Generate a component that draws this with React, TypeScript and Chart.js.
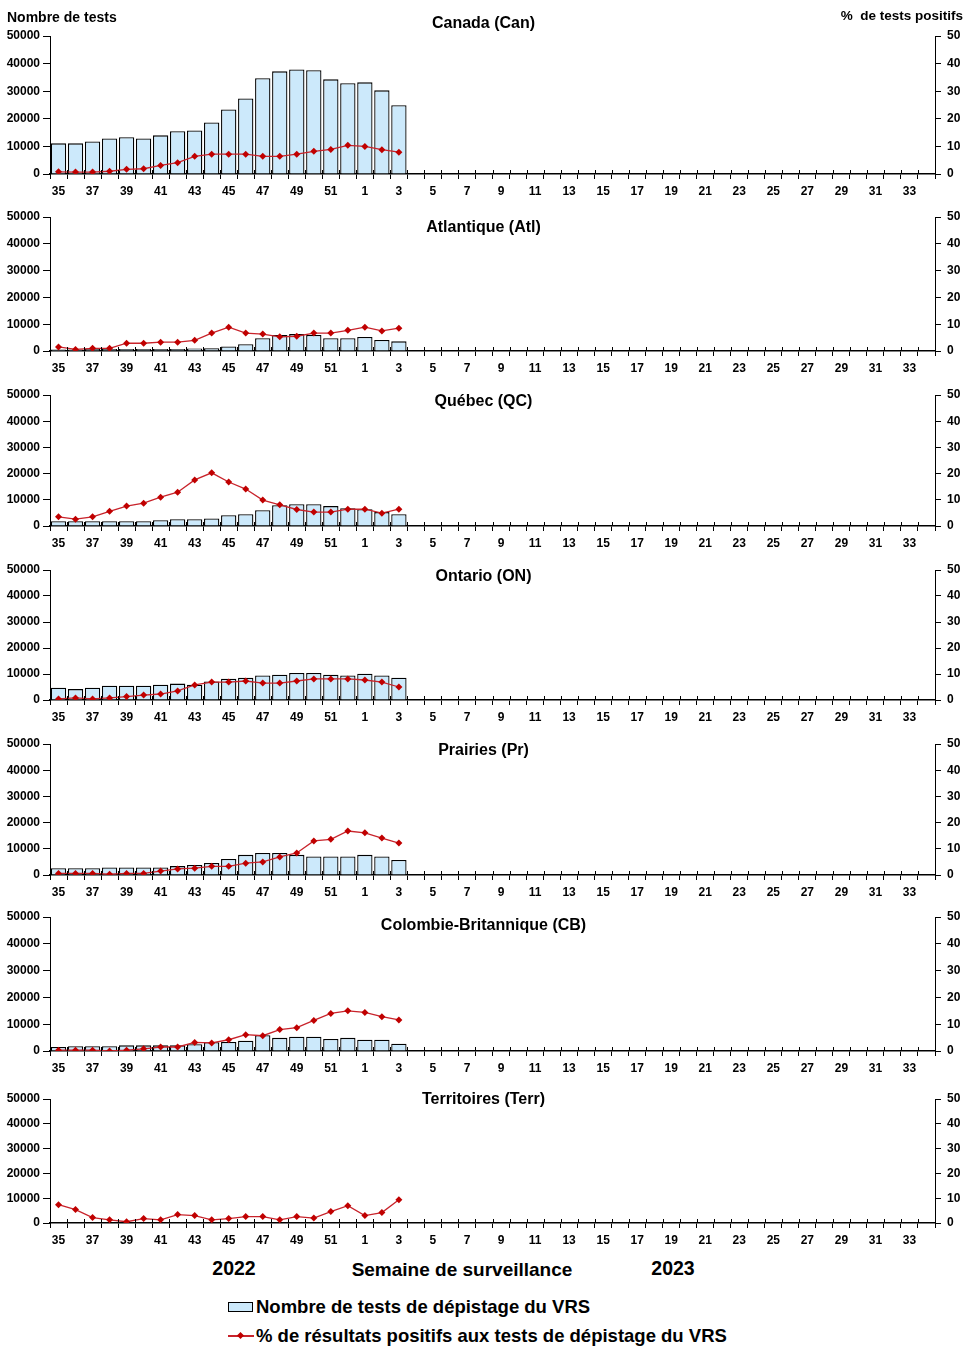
import React, { useEffect, useRef } from 'react';
import { Chart, registerables } from 'chart.js';

Chart.register(...registerables);

// ---- Data ----
const WEEKS = [
  '35', '36', '37', '38', '39', '40', '41', '42', '43', '44', '45', '46', '47', '48', '49', '50', '51', '52',
  '1', '2', '3', '4', '5', '6', '7', '8', '9', '10', '11', '12', '13', '14', '15', '16', '17', '18',
  '19', '20', '21', '22', '23', '24', '25', '26', '27', '28', '29', '30', '31', '32', '33', '34',
];

const TESTS_TICKS = [0, 10000, 20000, 30000, 40000, 50000];
const PCT_TICKS = [0, 10, 20, 30, 40, 50];

const CAN_TESTS = [11100, 11100, 11800, 12900, 13300, 12900, 14000, 15500, 15800, 18700, 23400, 27400, 34700, 37200, 37900, 37600, 34300, 32900, 33200, 30300, 24900];
const CAN_PCT = [0.8, 0.7, 0.7, 1.0, 1.7, 1.9, 3.1, 4.1, 6.4, 7.2, 7.2, 7.2, 6.4, 6.4, 7.2, 8.2, 8.9, 10.4, 10.0, 8.8, 7.9];

const ATL_TESTS = [600, 600, 700, 700, 700, 700, 700, 700, 900, 1000, 1700, 2500, 4800, 6000, 6300, 6000, 4800, 4800, 5200, 4100, 3600];
const ATL_PCT = [1.5, 0.6, 1.0, 1.0, 2.9, 2.9, 3.3, 3.3, 4.0, 6.7, 8.9, 6.7, 6.3, 5.3, 5.5, 6.7, 6.7, 7.7, 8.9, 7.5, 8.5];

const QC_TESTS = [1800, 1800, 1800, 1800, 1800, 1800, 2200, 2600, 2600, 2900, 4100, 4500, 6000, 7900, 8300, 8300, 7600, 6800, 6400, 5300, 4500];
const QC_PCT = [3.5, 2.6, 3.5, 5.6, 7.6, 8.7, 11.0, 12.9, 17.6, 20.3, 16.8, 14.1, 9.9, 8.1, 6.3, 5.3, 5.3, 6.4, 6.4, 4.9, 6.4];

const ON_TESTS = [4700, 4200, 4700, 5500, 5500, 5500, 5900, 6300, 5900, 7100, 8200, 8600, 9400, 9700, 10400, 10400, 9700, 9400, 10100, 9400, 8600];
const ON_PCT = [0.4, 0.8, 0.4, 0.8, 1.3, 1.9, 2.3, 3.5, 5.8, 6.9, 6.9, 7.3, 6.5, 6.5, 7.3, 8.1, 8.1, 8.1, 7.7, 6.9, 5.0];

const PR_TESTS = [2600, 2600, 2600, 2900, 2900, 2900, 2900, 3400, 3800, 4600, 6100, 7700, 8400, 8400, 7700, 7100, 7100, 7100, 7700, 7100, 5700];
const PR_PCT = [0.6, 0.6, 0.6, 0.3, 0.6, 0.6, 1.5, 2.3, 2.6, 3.3, 3.3, 4.5, 5.0, 6.9, 8.4, 13.0, 13.6, 16.8, 16.1, 14.1, 12.2];

const CB_TESTS = [1500, 1800, 1800, 1800, 2100, 2100, 2100, 2100, 2500, 3300, 3400, 3800, 5900, 4900, 5300, 5300, 4500, 4900, 4200, 4200, 2700];
const CB_PCT = [0.3, 0.3, 0.3, 0.0, 0.3, 0.8, 1.5, 1.5, 3.2, 3.0, 4.2, 6.1, 5.7, 8.0, 8.7, 11.4, 14.0, 15.0, 14.4, 12.8, 11.6];

const TERR_TESTS = [250, 250, 250, 250, 250, 250, 250, 250, 250, 250, 250, 300, 300, 300, 300, 300, 300, 300, 300, 300, 250];
const TERR_PCT = [7.4, 5.4, 2.2, 1.3, 0.5, 1.8, 1.3, 3.4, 3.0, 1.3, 1.8, 2.6, 2.6, 1.3, 2.6, 2.0, 4.6, 7.0, 3.0, 4.2, 9.4];

const TITLES = [
  'Canada (Can)',
  'Atlantique (Atl)',
  'Québec (QC)',
  'Ontario (ON)',
  'Prairies (Pr)',
  'Colombie-Britannique (CB)',
  'Territoires (Terr)',
];
const SERIES_TESTS = [CAN_TESTS, ATL_TESTS, QC_TESTS, ON_TESTS, PR_TESTS, CB_TESTS, TERR_TESTS];
const SERIES_PCT = [CAN_PCT, ATL_PCT, QC_PCT, ON_PCT, PR_PCT, CB_PCT, TERR_PCT];

const LEGEND_TESTS = 'Nombre de tests de dépistage du VRS';
const LEGEND_PCT = '% de résultats positifs aux tests de dépistage du VRS';

// ---- Layout / style ----
const LAYOUT = [
  { top: 36, bottom: 174, titleY: 24 },
  { top: 217, bottom: 351, titleY: 228 },
  { top: 395, bottom: 526, titleY: 402 },
  { top: 570, bottom: 700, titleY: 577 },
  { top: 744, bottom: 875, titleY: 751 },
  { top: 917, bottom: 1051, titleY: 926 },
  { top: 1099, bottom: 1223, titleY: 1100 },
];
const W = 967;
const H = 1363;
const PAD_TOP = 20;
const X_AXIS_H = 28;
const LEFT_W = 50;
const RIGHT_W = 32;
const FONT = '"Liberation Sans", Arial, Helvetica, sans-serif';
const BAR_FILL = '#CCE9FB';
const LINE_COLOR = '#C8232B';
const MARK_COLOR = '#C00000';

const crossTicks = {
  id: 'crossTicks',
  afterDraw(chart: any) {
    const xs = chart.scales.x;
    const ctx = chart.ctx;
    const n = WEEKS.length;
    const step = xs.getPixelForValue(1) - xs.getPixelForValue(0);
    const y = chart.chartArea.bottom;
    ctx.save();
    ctx.strokeStyle = '#000';
    ctx.lineWidth = 1;
    ctx.beginPath();
    for (let i = 0; i <= n; i++) {
      const x = Math.round(xs.getPixelForValue(i) - step / 2) + 0.5;
      ctx.moveTo(x, y - 4);
      ctx.lineTo(x, y);
    }
    ctx.stroke();
    ctx.restore();
  },
};

const panelTitle = {
  id: 'panelTitle',
  afterDraw(chart: any, _args: any, opts: any) {
    const ctx = chart.ctx;
    ctx.save();
    ctx.font = `bold 16px ${FONT}`;
    ctx.fillStyle = '#000';
    ctx.textAlign = 'center';
    ctx.textBaseline = 'middle';
    ctx.fillText(opts.text, W / 2, opts.y);
    ctx.restore();
  },
};

function Panel({ idx }: { idx: number }) {
  const ref = useRef<HTMLCanvasElement>(null);
  const lay = LAYOUT[idx];
  const canvasTop = lay.top - PAD_TOP;
  const canvasH = lay.bottom - lay.top + PAD_TOP + X_AXIS_H;

  useEffect(() => {
    const tickFont = { family: FONT, size: 12, weight: 'bold' as const };
    const chart = new Chart(ref.current!, {
      type: 'bar',
      data: {
        labels: WEEKS,
        datasets: [
          {
            type: 'line',
            label: LEGEND_PCT,
            data: SERIES_PCT[idx],
            yAxisID: 'y1',
            borderColor: LINE_COLOR,
            backgroundColor: MARK_COLOR,
            pointBackgroundColor: MARK_COLOR,
            pointBorderColor: MARK_COLOR,
            pointStyle: 'rectRot',
            pointRadius: 3.5,
            pointBorderWidth: 0,
            borderWidth: 1.3,
            tension: 0,
            order: 0,
          } as any,
          {
            type: 'bar',
            label: LEGEND_TESTS,
            data: SERIES_TESTS[idx],
            yAxisID: 'y',
            backgroundColor: BAR_FILL,
            borderColor: '#000',
            borderWidth: 1.3,
            categoryPercentage: 1,
            barPercentage: 0.9,
            order: 1,
          } as any,
        ],
      },
      options: {
        responsive: false,
        animation: false,
        layout: { padding: { top: PAD_TOP, left: 0, right: 0, bottom: 0 } },
        plugins: {
          legend: { display: false },
          tooltip: { enabled: false },
          panelTitle: { text: TITLES[idx], y: lay.titleY - canvasTop },
        } as any,
        scales: {
          x: {
            grid: { offset: true, drawOnChartArea: false, tickLength: 5, color: '#000', lineWidth: 1 },
            border: { color: '#000', width: 1.5 },
            ticks: {
              autoSkip: false,
              maxRotation: 0,
              minRotation: 0,
              padding: 5,
              color: '#000',
              font: tickFont,
              callback: (_v: any, i: number) => (i % 2 === 0 ? WEEKS[i] : ''),
            },
            afterFit: (s: any) => { s.height = X_AXIS_H; },
          },
          y: {
            position: 'left',
            min: 0,
            max: 50000,
            afterBuildTicks: (s: any) => { s.ticks = TESTS_TICKS.map((v) => ({ value: v })); },
            grid: { drawOnChartArea: false, tickLength: 7, color: '#000' },
            border: { color: '#000', width: 1 },
            ticks: { padding: 3, color: '#000', font: tickFont, callback: (v: any) => String(v) },
            afterFit: (s: any) => { s.width = LEFT_W; },
          },
          y1: {
            position: 'right',
            min: 0,
            max: 50,
            afterBuildTicks: (s: any) => { s.ticks = PCT_TICKS.map((v) => ({ value: v })); },
            grid: { drawOnChartArea: false, tickLength: 6, color: '#000' },
            border: { color: '#000', width: 1 },
            ticks: { padding: 6, color: '#000', font: tickFont, callback: (v: any) => String(v) },
            afterFit: (s: any) => { s.width = RIGHT_W; },
          },
        } as any,
      },
      plugins: [crossTicks, panelTitle],
    });
    return () => chart.destroy();
  }, [idx]);

  return (
    <canvas
      ref={ref}
      width={W}
      height={canvasH}
      style={{ position: 'absolute', left: 0, top: canvasTop, width: W, height: canvasH }}
    />
  );
}

function Text({ x, y, size, children, align = 'center' }: any) {
  const tx = align === 'center' ? '-50%' : align === 'right' ? '-100%' : '0';
  return (
    <div
      style={{
        position: 'absolute',
        left: x,
        top: y,
        transform: `translate(${tx}, -50%)`,
        fontFamily: FONT,
        fontWeight: 'bold',
        fontSize: size,
        lineHeight: 1,
        whiteSpace: 'nowrap',
        color: '#000',
      }}
    >
      {children}
    </div>
  );
}

export default function App() {
  return (
    <div style={{ position: 'absolute', left: 0, top: 0, width: W, height: H, background: '#fff', overflow: 'hidden' }}>
      {LAYOUT.map((_, i) => (
        <Panel key={i} idx={i} />
      ))}
      <Text x={7} y={17} size={14} align="left">Nombre de tests</Text>
      <Text x={963} y={16} size={13.5} align="right">%&nbsp; de tests positifs</Text>
      <Text x={234} y={1269} size={19.5}>2022</Text>
      <Text x={462} y={1269} size={19}>Semaine de surveillance</Text>
      <Text x={673} y={1269} size={19.5}>2023</Text>

      <div style={{ position: 'absolute', left: 228, top: 1302, width: 25, height: 10, background: BAR_FILL, border: '1px solid #000', boxSizing: 'border-box' }} />
      <Text x={256} y={1307} size={18.5} align="left">{LEGEND_TESTS}</Text>

      <div style={{ position: 'absolute', left: 228, top: 1335, width: 26, height: 1.5, background: LINE_COLOR }} />
      <div style={{ position: 'absolute', left: 238, top: 1333, width: 5, height: 5, background: MARK_COLOR, transform: 'rotate(45deg)' }} />
      <Text x={256} y={1336} size={18.5} align="left">{LEGEND_PCT}</Text>
    </div>
  );
}
